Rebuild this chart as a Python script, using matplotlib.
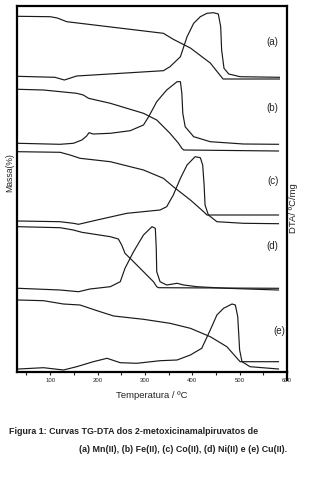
import matplotlib
matplotlib.use("Agg")
import matplotlib.pyplot as plt
from matplotlib.lines import Line2D

plt.rcParams['font.family'] = ['Liberation Sans', 'DejaVu Sans']

# ---- data (temperature in ºC, signal in arbitrary stacked units) ----
a_tg_T = [30, 100, 115, 135, 339, 360, 396, 438, 465, 584]
a_tg_y = [355.7, 355.3, 354, 350.3, 338.7, 332.7, 324, 309, 293, 293]
a_dta_T = [30, 110, 130, 156, 339, 353, 375, 389, 403, 417, 431, 445, 455, 460, 462, 467, 477, 501, 584]
a_dta_y = [295.7, 294.7, 292, 296, 301.3, 305.3, 315.3, 335.3, 348.7, 355.3, 358.7, 359.3, 358, 345.3, 322, 303.7, 298, 295.3, 294.7]

b_tg_T = [33, 86, 156, 170, 181, 227, 297, 325, 353, 371, 378, 382, 582]
b_tg_y = [282.7, 282, 278.7, 277, 273.7, 268.7, 258.7, 252, 238.7, 228.7, 223.7, 222, 221]
b_dta_T = [33, 121, 149, 167, 177, 182, 191, 227, 269, 297, 308, 325, 346, 368, 375, 378, 380, 385, 403, 438, 508, 582]
b_dta_y = [228.7, 227.7, 228.7, 232, 236, 239.3, 238, 238.7, 241.3, 247, 255.3, 270.3, 282, 290.3, 290.3, 278.7, 258.7, 245.3, 235.3, 230.3, 228, 227.7]

c_tg_T = [33, 121, 142, 163, 227, 297, 339, 360, 396, 424, 431, 582]
c_tg_y = [220.3, 219.7, 217, 213.7, 210.3, 202, 193.7, 185.3, 172, 160.3, 157, 157]
c_dta_T = [33, 121, 149, 160, 199, 262, 332, 346, 360, 375, 389, 406, 417, 422, 425, 427, 434, 452, 508, 582]
c_dta_y = [151, 150.3, 148.7, 147.7, 152, 158.7, 162, 165.3, 177, 193.7, 207, 215.3, 214.3, 207, 187, 167, 157, 150.3, 148.7, 148.3]

d_tg_T = [33, 121, 149, 167, 227, 244, 251, 258, 276, 297, 318, 325, 329, 582]
d_tg_y = [145.3, 144.3, 142, 139.7, 135.3, 133, 127, 118.7, 110.3, 100.3, 90.3, 85.3, 84.3, 83.7]
d_dta_T = [33, 121, 160, 184, 227, 248, 258, 276, 297, 315, 322, 324, 325, 332, 346, 368, 382, 410, 473, 582]
d_dta_y = [83.7, 82, 80.3, 83, 85.3, 90.3, 103.7, 120.3, 137, 145.3, 143.7, 123.7, 100.3, 90.3, 87, 88.7, 87, 85.3, 83.7, 82]

e_tg_T = [33, 86, 128, 163, 199, 234, 297, 353, 396, 438, 473, 501, 582]
e_tg_y = [72, 71.3, 68, 67, 61.3, 56, 52.7, 48.7, 43.7, 35.3, 25.3, 10.3, 10.3]
e_dta_T = [33, 86, 128, 156, 191, 220, 248, 283, 332, 368, 396, 420, 438, 452, 466, 484, 491, 496, 500, 505, 522, 582]
e_dta_y = [3, 4.3, 2, 5.3, 10.3, 13.7, 9.3, 8.7, 11.3, 12, 17, 23.7, 42, 57, 63.7, 68, 67, 55.3, 22, 10.3, 5.3, 3]

curve_labels = ['(a)', '(b)', '(c)', '(d)', '(e)']
label_y = [330, 264, 191, 126, 41]
label_T = [570, 570, 570, 570, 583]

x_ticks = [100, 200, 300, 400, 500, 600]
x_minor = [50, 150, 250, 350, 450, 550]

# ---- figure ----
fig = plt.figure(figsize=(3.23, 4.79), dpi=100)
ax = fig.add_axes([17 / 323, 1 - 372 / 479, 270 / 323, 366 / 479])

lc = '#1a1a1a'
lw = 0.85
for T, y in [(a_tg_T, a_tg_y), (a_dta_T, a_dta_y), (b_tg_T, b_tg_y), (b_dta_T, b_dta_y),
             (c_tg_T, c_tg_y), (c_dta_T, c_dta_y), (d_tg_T, d_tg_y), (d_dta_T, d_dta_y),
             (e_tg_T, e_tg_y), (e_dta_T, e_dta_y)]:
    ax.plot(T, y, color=lc, lw=lw, solid_joinstyle='round')

for lab, ty, tx in zip(curve_labels, label_y, label_T):
    ax.text(tx, ty, lab, fontsize=7, ha='center', va='center', color='#222222')

ax.set_xlim(30, 600)
ax.set_ylim(0, 366)
ax.set_yticks([])
ax.set_xticks(x_ticks)
ax.set_xticks(x_minor, minor=True)
ax.tick_params(axis='x', which='both', direction='out', length=2.2, width=0.8,
               labelsize=4.3, pad=2, colors='#222222')
for s in ax.spines.values():
    s.set_linewidth(1.6)
    s.set_color('black')

# right spine extends slightly below the plot
ax.add_line(Line2D([1, 1], [0, -0.022], transform=ax.transAxes, color='black',
                   lw=1.6, clip_on=False))

ax.set_xlabel('Temperatura / ºC', fontsize=6.8, labelpad=6, color='#222222')
fig.text(10 / 323, 1 - 173 / 479, 'Massa(%)', rotation=90, fontsize=6.2,
         ha='center', va='center', color='#222222')
fig.text(293 / 323, 1 - 208 / 479, 'DTA/ ºC/mg', rotation=90, fontsize=6.8,
         ha='center', va='center', color='#222222')

fig.text(9 / 323, 1 - 431 / 479, 'Figura 1: Curvas TG-DTA dos 2-metoxicinamalpiruvatos de',
         fontsize=6.4, fontweight='bold', ha='left', va='center', color='#222222')
fig.text(287 / 323, 1 - 449 / 479, '(a) Mn(II), (b) Fe(II), (c) Co(II), (d) Ni(II) e (e) Cu(II).',
         fontsize=6.4, fontweight='bold', ha='right', va='center', color='#222222')

fig.savefig('out.png', dpi=100)
